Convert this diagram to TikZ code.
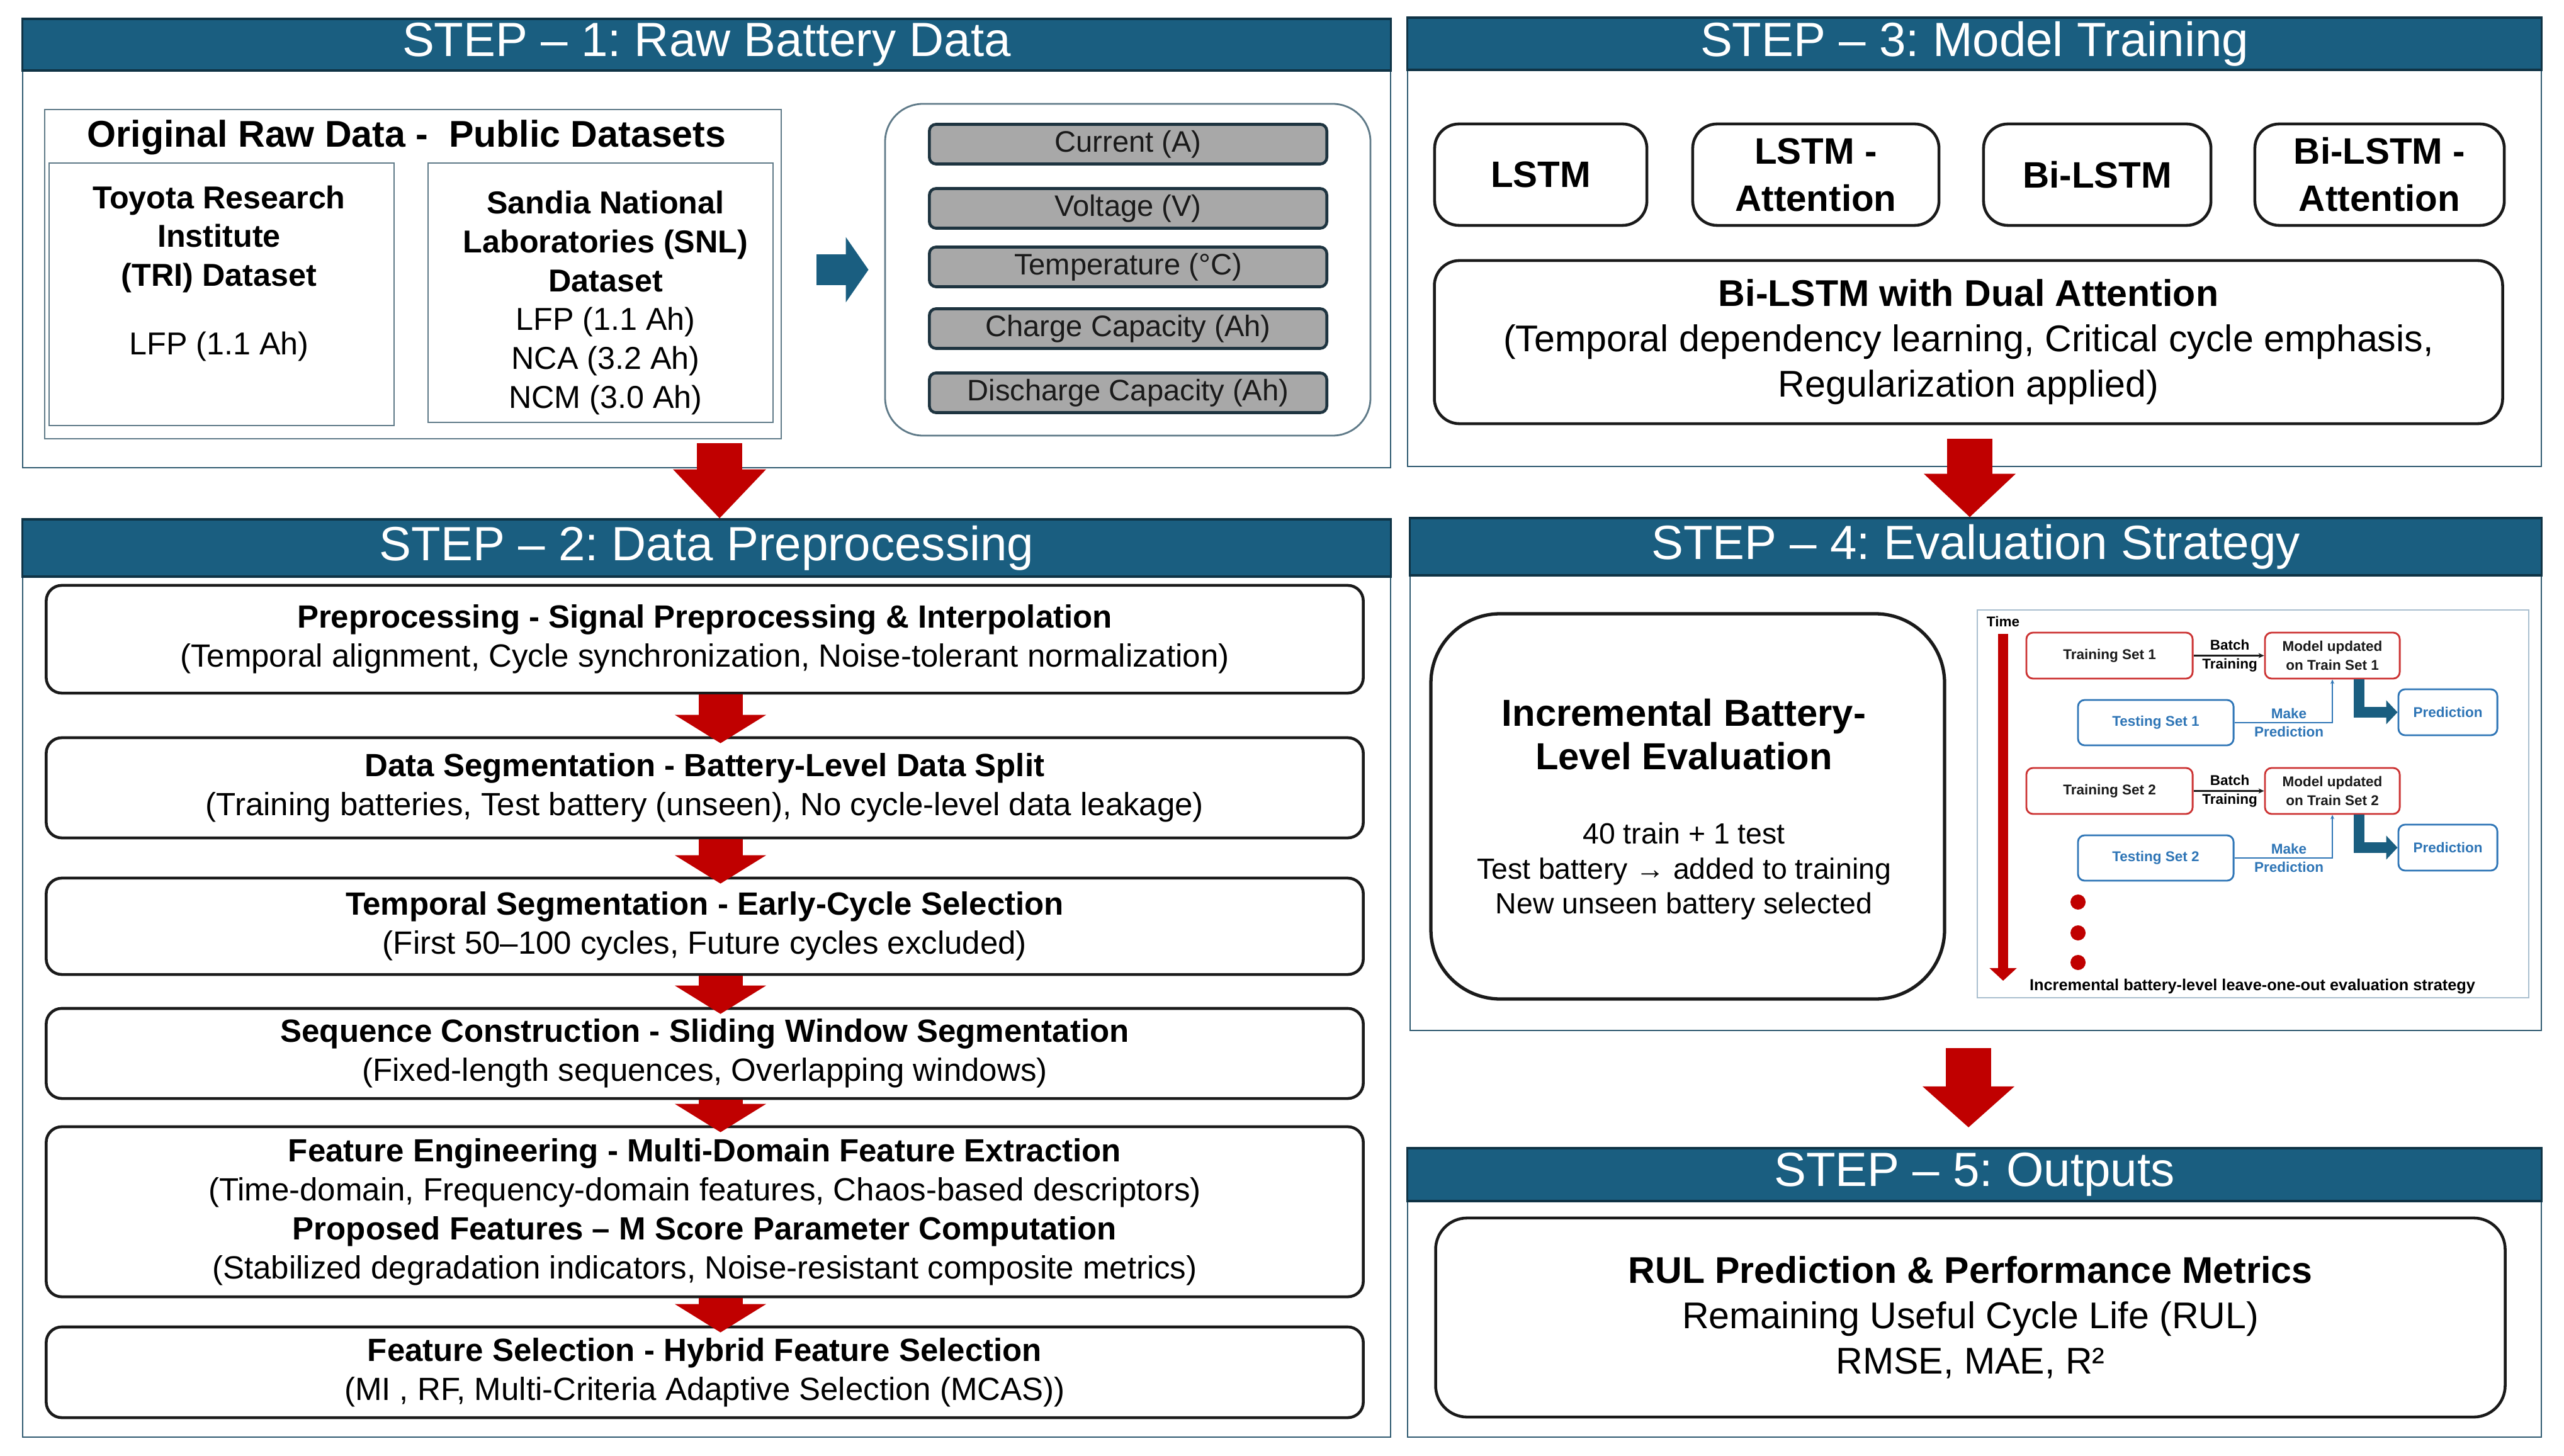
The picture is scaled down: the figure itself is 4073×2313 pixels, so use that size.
\documentclass[tikz,border=0pt]{standalone}
\usepackage{fontspec}
\setmainfont{Liberation Sans}
\usepackage{tikz}
\usetikzlibrary{arrows.meta,positioning,fit,calc}
\frenchspacing
\definecolor{headbg}{HTML}{1A5E80}
\definecolor{headbd}{HTML}{0F3345}
\definecolor{panelbd}{HTML}{2F5A70}
\definecolor{ink}{HTML}{1A1A1A}
\definecolor{barbg}{HTML}{A8A8A8}
\definecolor{barbd}{HTML}{1E3440}
\definecolor{softbd}{HTML}{5F7A88}
\definecolor{figbd}{HTML}{A9BFCF}
\definecolor{arrowred}{HTML}{C00000}
\definecolor{setred}{HTML}{CC3333}
\definecolor{setblue}{HTML}{2E75B6}
\tikzset{
  panel/.style={draw=panelbd,line width=0.8pt,inner sep=0pt},
  header/.style={draw=headbd,fill=headbg,line width=1pt,inner sep=0pt,
                 text=white,font=\fontsize{21.7}{26}\selectfont},
  stepbox/.style={draw=ink,line width=1.3pt,rounded corners=7pt,inner sep=0pt,
                  minimum width=20.91cm,align=center,font=\fontsize{14.5}{17.6}\selectfont},
  databox/.style={draw=softbd,line width=0.8pt,inner sep=0pt},
  sigbar/.style={draw=barbd,fill=barbg,line width=1.3pt,rounded corners=3pt,
                 minimum width=6.31cm,minimum height=0.63cm,inner sep=0pt,
                 text=ink,font=\fontsize{13.4}{16}\selectfont},
  modelbox/.style={draw=ink,line width=1.3pt,rounded corners=11pt,inner sep=0pt,
                   minimum height=1.61cm,align=center,
                   font=\bfseries\fontsize{16.6}{21.3}\selectfont},
  bigbox/.style={draw=ink,line width=1.3pt,inner sep=0pt,align=center,
                 font=\fontsize{16.8}{20.5}\selectfont},
  trainbox/.style={draw=setred,line width=0.8pt,rounded corners=3pt,inner sep=0pt,
                   align=center,text=ink,font=\bfseries\fontsize{6.4}{8.5}\selectfont},
  testbox/.style={trainbox,draw=setblue,text=setblue},
  tinylbl/.style={inner sep=0pt,align=center,font=\bfseries\fontsize{6.4}{8.5}\selectfont},
  redarrow/.style={-{Triangle[length=0.45cm,width=1.43cm]},line width=0.7cm,arrowred},
  bigred/.style={-{Triangle[length=0.78cm,width=1.43cm]},line width=0.72cm,arrowred},
  bluefat/.style={-{Triangle[length=0.36cm,width=1.02cm]},line width=0.49cm,headbg},
  timearrow/.style={-{Triangle[length=0.2cm,width=0.42cm]},line width=0.16cm,arrowred},
  bentblue/.style={-{Triangle[length=0.18cm,width=0.37cm]},line width=0.17cm,headbg},
  thinblack/.style={-{Stealth[length=0.09cm,width=0.08cm]},line width=1pt,ink},
  thinblue/.style={-{Stealth[length=0.07cm,width=0.06cm]},line width=0.6pt,setblue},
}
\begin{document}
\begin{tikzpicture}[x=0.01cm,y=-0.01cm]
  \useasboundingbox (0,0) rectangle (4073,2313);
  \fill[white] (0,0) rectangle (4073,2313);
  % panels with their title bands
  \foreach \nm/\xa/\ya/\xb/\yb/\cx/\cy/\hw/\hh/\txt in {
    p1/36/30/2209/743/1122.5/71/21.73/0.82/{STEP – 1: Raw Battery Data},
    p2/36/825/2209/2283/1122.5/870.5/21.73/0.91/{STEP – 2: Data Preprocessing},
    p3/2236/28/4037/741/3136.5/69.5/18.01/0.83/{STEP – 3: Model Training},
    p4/2240/823/4037/1637/3138.5/868.5/17.97/0.91/{STEP – 4: Evaluation Strategy},
    p5/2236/1824/4037/2283/3136.5/1866/18.01/0.84/{STEP – 5: Outputs}
  }{
    \node[panel,fit={(\xa,\ya) (\xb,\yb)}] (\nm) {};
    \node[header,minimum width=\hw cm,minimum height=\hh cm] (h\nm) at (\cx,\cy) {\txt};
  }
  % step 1
  \node[databox,fit={(71,174) (1241,697)}] (raw) {};
  \node[font=\bfseries\fontsize{16.8}{20}\selectfont] (rawttl) at (646,218)
    {Original Raw Data -~ Public Datasets};
  \node[databox,fit={(78,259) (626,676)}] (tri) {};
  \node[databox,fit={(680,259) (1228,671)}] (snl) {};
  \node[align=center,font=\bfseries\fontsize{14.3}{17.6}\selectfont] (tritxt)
    at (348,380) {Toyota Research\\Institute\\(TRI) Dataset};
  \node[font=\fontsize{14.3}{17.6}\selectfont] (trichem) at (348,550) {LFP (1.1 Ah)};
  \node[align=center,font=\fontsize{14.3}{17.6}\selectfont] (snltxt) at (962,481)
    {\textbf{Sandia National}\\\textbf{Laboratories (SNL)}\\\textbf{Dataset}\\
     LFP (1.1 Ah)\\NCA (3.2 Ah)\\NCM (3.0 Ah)};
  \node[draw=softbd,line width=0.8pt,rounded corners=0.6cm,inner sep=0pt,
        fit={(1406,165) (2177,692)}] (vars) {};
  \foreach \nm/\yy/\txt in {cur/229/{Current (A)},vol/331/{Voltage (V)},
    tmp/424/{Temperature (°C)},chg/522/{Charge Capacity (Ah)},
    dis/624/{Discharge Capacity (Ah)}}
    \node[sigbar] (\nm) at (1792,\yy) {\txt};
  \draw[bluefat,shorten <=0.55cm,shorten >=0.25cm] (raw.east |- vars.west) -- (vars.west);
  \coordinate (d12) at (1143,704);
  \draw[bigred] (d12) -- (d12 |- p2.north);
  % step 2
  \node[stepbox,minimum height=1.71cm] (b1) at (1119.5,1015.5)
    {\textbf{Preprocessing - Signal Preprocessing \& Interpolation}\\
     (Temporal alignment, Cycle synchronization, Noise-tolerant normalization)};
  \node[stepbox,minimum height=1.59cm] (b2) at (1119.5,1251.5)
    {\textbf{Data Segmentation - Battery-Level Data Split}\\
     (Training batteries, Test battery (unseen), No cycle-level data leakage)};
  \node[stepbox,minimum height=1.53cm] (b3) at (1119.5,1471.5)
    {\textbf{Temporal Segmentation - Early-Cycle Selection}\\
     (First 50–100 cycles, Future cycles excluded)};
  \node[stepbox,minimum height=1.43cm] (b4) at (1119.5,1673.5)
    {\textbf{Sequence Construction - Sliding Window Segmentation}\\
     (Fixed-length sequences, Overlapping windows)};
  \node[stepbox,minimum height=2.70cm] (b5) at (1119.5,1925)
    {\textbf{Feature Engineering - Multi-Domain Feature Extraction}\\
     (Time-domain, Frequency-domain features, Chaos-based descriptors)\\
     \textbf{Proposed Features – M Score Parameter Computation}\\
     (Stabilized degradation indicators, Noise-resistant composite metrics)};
  \node[stepbox,minimum height=1.44cm] (b6) at (1119.5,2180)
    {\textbf{Feature Selection - Hybrid Feature Selection}\\
     (MI , RF, Multi-Criteria Adaptive Selection (MCAS))};
  \foreach \a/\b in {b1/b2,b2/b3,b3/b4,b4/b5,b5/b6}
    \draw[redarrow] ([xshift=0.25cm]\a.south) -- ([xshift=0.25cm,yshift=-0.11cm]\b.north);
  % step 3
  \node[modelbox,minimum width=3.37cm] (lstm) at (2447.5,277.5) {LSTM};
  \node[modelbox,minimum width=3.91cm] (lstmatt) at (2884.5,277.5) {LSTM -\\Attention};
  \node[modelbox,minimum width=3.61cm] (bilstm) at (3331.5,277.5) {Bi-LSTM};
  \node[modelbox,minimum width=3.96cm] (bilstmatt) at (3780,277.5) {Bi-LSTM -\\Attention};
  \node[bigbox,rounded corners=0.4cm,minimum width=16.96cm,minimum height=2.59cm]
    (dual) at (3127,543.5)
    {\textbf{Bi-LSTM with Dual Attention}\\(Temporal dependency learning, Critical cycle emphasis,\\
     Regularization applied)};
  \coordinate (d34) at (3129,697);
  \draw[bigred,-{Triangle[length=0.69cm,width=1.42cm]}] (d34) -- (d34 |- p4.north);
  % step 4
  \node[draw=ink,line width=1.5pt,rounded corners=1.1cm,inner sep=0pt,
        fit={(2273,975) (3089,1587)}] (incr) {};
  \node[align=center,font=\bfseries\fontsize{17}{19.6}\selectfont] (incrttl)
    at (2675,1167) {Incremental Battery-\\Level Evaluation};
  \node[align=center,font=\fontsize{13.2}{15.9}\selectfont] (incrtxt) at (2675,1384)
    {40 train + 1 test\\Test battery → added to training\\New unseen battery selected};
  \node[draw=figbd,line width=0.8pt,inner sep=0pt,fit={(3141,969) (4017,1585)}] (evalfig) {};
  \node[tinylbl] (timelbl) at (3182,987) {Time};
  \coordinate (t0) at (3182,1007);
  \coordinate (t1) at (3182,1558);
  \draw[timearrow] (t0) -- (t1);
  \foreach \idx/\dy in {1/0,2/215}{
    \node[trainbox,minimum width=2.64cm,minimum height=0.73cm] (tr\idx)
      at (3351,{1041.5+\dy}) {Training Set \idx};
    \node[trainbox,minimum width=2.14cm,minimum height=0.73cm] (mu\idx)
      at (3705,{1041.5+\dy}) {Model updated\\on Train Set \idx};
    \node[testbox,minimum width=2.47cm,minimum height=0.72cm] (ts\idx)
      at (3424.5,{1148+\dy}) {Testing Set \idx};
    \node[testbox,minimum width=1.57cm,minimum height=0.73cm] (pr\idx)
      at (3888.5,{1131.5+\dy}) {Prediction};
    \node[tinylbl] (bt\idx) at (3542,{1042+\dy}) {Batch\\Training};
    \node[tinylbl,text=setblue] (mp\idx) at (3636,{1148+\dy}) {Make\\Prediction};
    \draw[thinblack] (tr\idx.east) -- (mu\idx.west);
    \draw[thinblue] (ts\idx.east) -| (mu\idx.south);
    \draw[bentblue] ([xshift=0.42cm]mu\idx.south) |- (pr\idx.west);
  }
  \foreach \yy in {1433,1482,1529}
    \fill[arrowred] (3301,\yy) circle (0.12cm);
  \node[tinylbl,font=\bfseries\fontsize{7.2}{8.5}\selectfont] (figcap) at (3578,1567)
    {Incremental battery-level leave-one-out evaluation strategy};
  \coordinate (d45) at (3127,1665);
  \coordinate (d45e) at (3127,1791);
  \draw[bigred,-{Triangle[length=0.65cm,width=1.42cm]}] (d45) -- (d45e);
  % step 5
  \node[bigbox,rounded corners=0.5cm,minimum width=16.98cm,minimum height=3.16cm]
    (outbox) at (3130,2093)
    {\textbf{RUL Prediction \& Performance Metrics}\\Remaining Useful Cycle Life (RUL)\\RMSE, MAE, R²};
\end{tikzpicture}
\end{document}
